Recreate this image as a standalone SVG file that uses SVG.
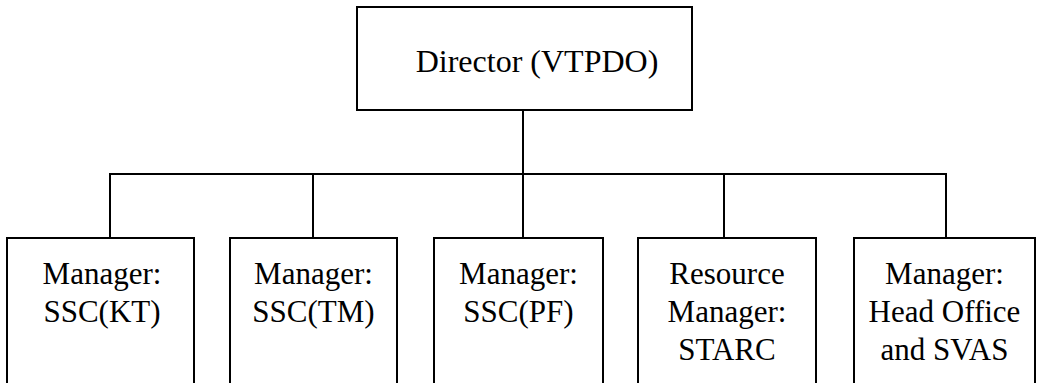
<svg xmlns="http://www.w3.org/2000/svg" width="1038" height="383" viewBox="0 0 1038 383">
<style>
.box{fill:#fff;stroke:#000;stroke-width:2}
.ln{fill:none;stroke:#000;stroke-width:2}
text{fill:#000;text-anchor:middle;font-family:"Liberation Serif","Times New Roman",serif}
.t{font-size:32px}
.b{font-size:31px}
</style>
<rect width="1038" height="383" fill="#fff"/>
<g id="connectors">
<path class="ln" d="M523,110 V174"/>
<path class="ln" d="M110,238 V174 H946 V238"/>
<path class="ln" d="M313,174 V238"/>
<path class="ln" d="M523,174 V238"/>
<path class="ln" d="M724,174 V238"/>
</g>
<g id="director">
<rect class="box" x="357" y="7" width="335" height="103"/>
<text class="t" x="537" y="72">Director (VTPDO)</text>
</g>
<g id="kt">
<rect class="box" x="7" y="238" width="187" height="160"/>
<text class="b" x="102" y="284">Manager:</text>
<text class="b" x="102" y="322">SSC(KT)</text>
</g>
<g id="tm">
<rect class="box" x="230" y="238" width="167" height="160"/>
<text class="b" x="313.5" y="284">Manager:</text>
<text class="b" x="313.5" y="322">SSC(TM)</text>
</g>
<g id="pf">
<rect class="box" x="434" y="238" width="169" height="160"/>
<text class="b" x="518.5" y="284">Manager:</text>
<text class="b" x="518.5" y="322">SSC(PF)</text>
</g>
<g id="starc">
<rect class="box" x="638" y="238" width="178" height="160"/>
<text class="b" x="727" y="284">Resource</text>
<text class="b" x="727" y="322">Manager:</text>
<text class="b" x="727" y="360">STARC</text>
</g>
<g id="headoffice">
<rect class="box" x="854" y="238" width="181" height="160"/>
<text class="b" x="944.5" y="284">Manager:</text>
<text class="b" x="944.5" y="322">Head Office</text>
<text class="b" x="944.5" y="360">and SVAS</text>
</g>
</svg>
